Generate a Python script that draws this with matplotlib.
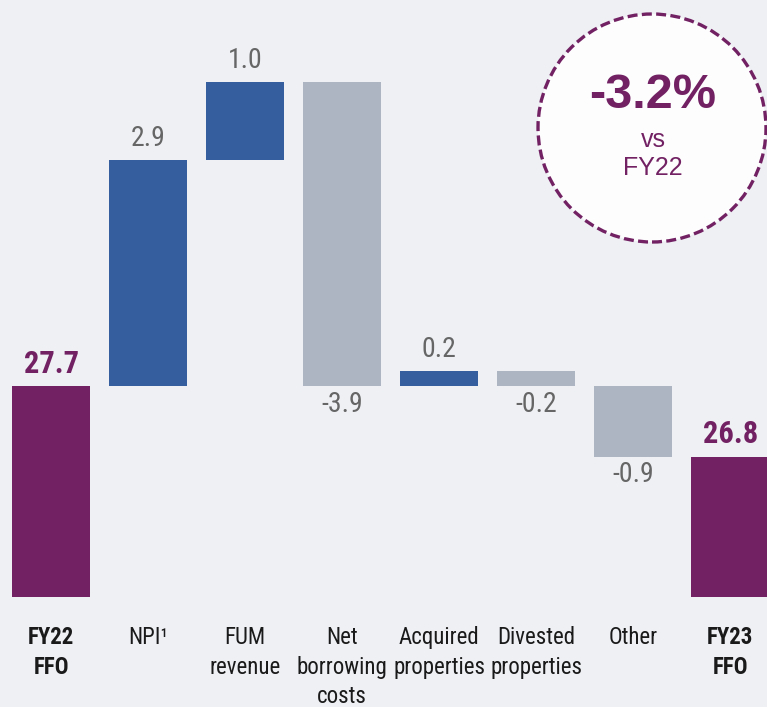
import numpy as np
import matplotlib
matplotlib.use("Agg")
import matplotlib.pyplot as plt
from matplotlib import font_manager
from matplotlib.patches import Circle

# pick a narrow sans if one is around, otherwise Roboto
names = {(f.name, f.stretch) for f in font_manager.fontManager.ttflist}
fam_names = {n for n, s in names}
stretch = 'normal'
if 'Liberation Sans Narrow' in fam_names:
    family = 'Liberation Sans Narrow'
elif 'Roboto Condensed' in fam_names:
    family = 'Roboto Condensed'
elif any(n == 'DejaVu Sans' and s != 'normal' and s != 500 for n, s in names):
    family = 'DejaVu Sans'
    stretch = 'condensed'
else:
    family = 'Roboto'
plt.rcParams['font.family'] = [family, 'DejaVu Sans']
plt.rcParams['font.stretch'] = stretch
wide = ['Liberation Sans', 'DejaVu Sans']

# FFO bridge FY22 -> FY23
categories = ['FY22\nFFO', 'NPI¹', 'FUM\nrevenue', 'Net\nborrowing\ncosts',
              'Acquired\nproperties', 'Divested\nproperties', 'Other', 'FY23\nFFO']
start_total = 27.7
end_total = 26.8
deltas = [2.9, 1.0, -3.9, 0.2, -0.2, -0.9]
change_text = '-3.2%'

purple = '#722263'
blue = '#345e9d'
grey = '#adb5c3'
bg = '#eef0f4'

fig = plt.figure(figsize=(7.67, 7.07), dpi=100)
fig.patch.set_facecolor(bg)
ax = fig.add_axes([0, 1 - 597 / 707, 1, 597 / 707])
ax.set_facecolor(bg)

base = 25.0
x = np.arange(len(categories))
w = 0.8

# totals
for i, val in [(0, start_total), (len(categories) - 1, end_total)]:
    ax.bar(x[i], val - base, bottom=base, width=w, color=purple)
    ax.text(x[i], val + 0.1, f'{val:.1f}', ha='center', va='bottom',
            color=purple, fontsize=22, fontweight='bold')

# deltas
running = start_total
for j, d in enumerate(deltas):
    i = j + 1
    lo = min(running, running + d)
    col = blue if d > 0 else grey
    ax.bar(x[i], abs(d), bottom=lo, width=w, color=col)
    if d > 0:
        ax.text(x[i], running + d + 0.1, f'{d:.1f}', ha='center', va='bottom',
                color='#666666', fontsize=20)
    else:
        ax.text(x[i], running + d - 0.06, f'{d:.1f}', ha='center', va='top',
                color='#666666', fontsize=20)
    running += d

ax.set_xlim(-0.526, 7.38)
ax.set_ylim(base, base + 597 / 78.0)
ax.axis('off')

# category labels below axis
for i, lab in enumerate(categories):
    bold = i in (0, len(categories) - 1)
    ax.annotate(lab, xy=(x[i], base), xycoords='data', xytext=(0, -21),
                textcoords='offset points', ha='center', va='top',
                fontsize=16.5, fontweight='bold' if bold else 'normal',
                color='#1a1a1a', linespacing=1.36, annotation_clip=False)

# highlight circle
circ = Circle((6.52, 7.07 - 1.28), 1.14, transform=fig.dpi_scale_trans,
              facecolor='#fdfdfe', edgecolor=purple, linewidth=2.4,
              linestyle=(0, (3, 1.3)), zorder=5)
fig.patches.append(circ)
fig.text(653 / 767, 1 - 96 / 707, change_text, ha='center', va='center',
         color=purple, fontsize=35, fontweight='bold', family=wide, zorder=6)
fig.text(653 / 767, 1 - 154 / 707, 'vs\nFY22', ha='center', va='center',
         color=purple, fontsize=18, linespacing=1.2, family=wide, zorder=6)

fig.savefig('out.png', dpi=100, facecolor=bg)
